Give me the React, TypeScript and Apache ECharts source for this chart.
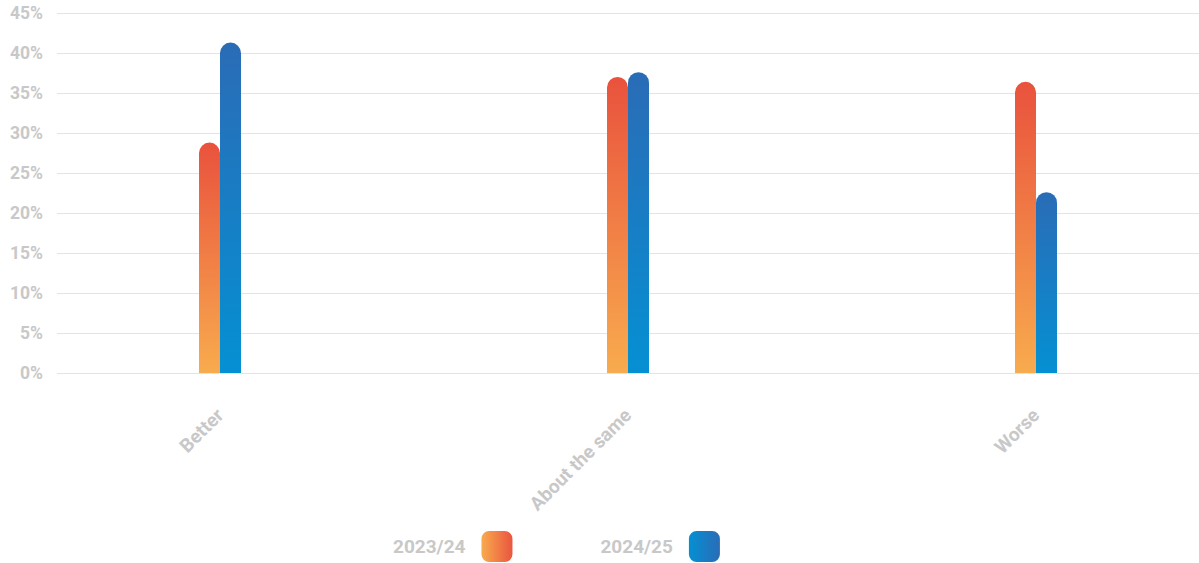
import React, { useEffect, useRef } from "react";
import * as echarts from "echarts";

const categories = ["Better", "About the same", "Worse"];
const series2324 = [28.8, 37.0, 36.4];
const series2425 = [41.3, 37.6, 22.6];
const seriesNames = ["2023/24", "2024/25"];
const yTicks = [0, 5, 10, 15, 20, 25, 30, 35, 40, 45];

const labelColor = "#c8c8c8";
const font = "Roboto";

function vgrad(top: string, bottom: string) {
  return new echarts.graphic.LinearGradient(0, 0, 0, 1, [
    { offset: 0, color: top },
    { offset: 1, color: bottom },
  ]);
}
function hgrad(left: string, right: string) {
  return new echarts.graphic.LinearGradient(0, 0, 1, 0, [
    { offset: 0, color: left },
    { offset: 1, color: right },
  ]);
}

export default function App() {
  const ref = useRef<HTMLDivElement>(null);
  useEffect(() => {
    if (!ref.current) return;
    const chart = echarts.init(ref.current, null, { renderer: "svg" });
    const yMin = yTicks[0];
    const yMax = yTicks[yTicks.length - 1];
    chart.setOption({
      animation: false,
      grid: [
        { left: 57, right: 0, top: 13, bottom: 190, outerBoundsMode: "none" },
        { left: 16, width: 1224, top: 13, bottom: 190, outerBoundsMode: "none" },
      ],
      legend: {
        left: 393,
        top: 531,
        padding: 0,
        align: "right",
        itemWidth: 31,
        itemHeight: 31,
        itemGap: 88,
        icon: "roundRect",
        textStyle: {
          color: labelColor,
          fontFamily: font,
          fontWeight: "bold",
          fontSize: 19,
          padding: [0, 11, 0, 0],
        },
        data: [
          { name: seriesNames[0], itemStyle: { color: hgrad("#f8ab4e", "#ea553e") } },
          { name: seriesNames[1], itemStyle: { color: hgrad("#0590d3", "#2a6cb6") } },
        ],
      },
      xAxis: [
        { type: "category", gridIndex: 0, show: false, data: categories },
        {
          type: "category",
          gridIndex: 1,
          data: categories,
          axisLine: { show: false },
          axisTick: { show: false },
          axisLabel: {
            rotate: 45,
            margin: 39,
            color: labelColor,
            fontFamily: font,
            fontWeight: "bold",
            fontSize: 19,
          },
        },
      ],
      yAxis: [
        {
          type: "value",
          gridIndex: 0,
          min: yMin,
          max: yMax,
          interval: 5,
          axisLine: { show: false },
          axisTick: { show: false },
          splitLine: { lineStyle: { color: "#e3e3e3", width: 1 } },
          axisLabel: {
            formatter: "{value}%",
            margin: 14,
            color: labelColor,
            fontFamily: font,
            fontWeight: "bold",
            fontSize: 17.5,
          },
        },
        {
          type: "value",
          gridIndex: 1,
          min: yMin,
          max: yMax,
          show: false,
          splitLine: { show: false },
        },
      ],
      series: [
        {
          name: seriesNames[0],
          type: "bar",
          xAxisIndex: 1,
          yAxisIndex: 1,
          data: series2324,
          barWidth: 21,
          barGap: "0%",
          itemStyle: { color: vgrad("#e9523d", "#f8ab4e"), borderRadius: [11, 11, 0, 0] },
        },
        {
          name: seriesNames[1],
          type: "bar",
          xAxisIndex: 1,
          yAxisIndex: 1,
          data: series2425,
          barWidth: 21,
          barGap: "0%",
          itemStyle: { color: vgrad("#2a6cb6", "#0590d3"), borderRadius: [11, 11, 0, 0] },
        },
      ],
    });
    return () => chart.dispose();
  }, []);
  return (
    <div
      ref={ref}
      style={{ position: "fixed", left: 0, top: 0, width: 1199, height: 563, background: "#fff" }}
    />
  );
}
